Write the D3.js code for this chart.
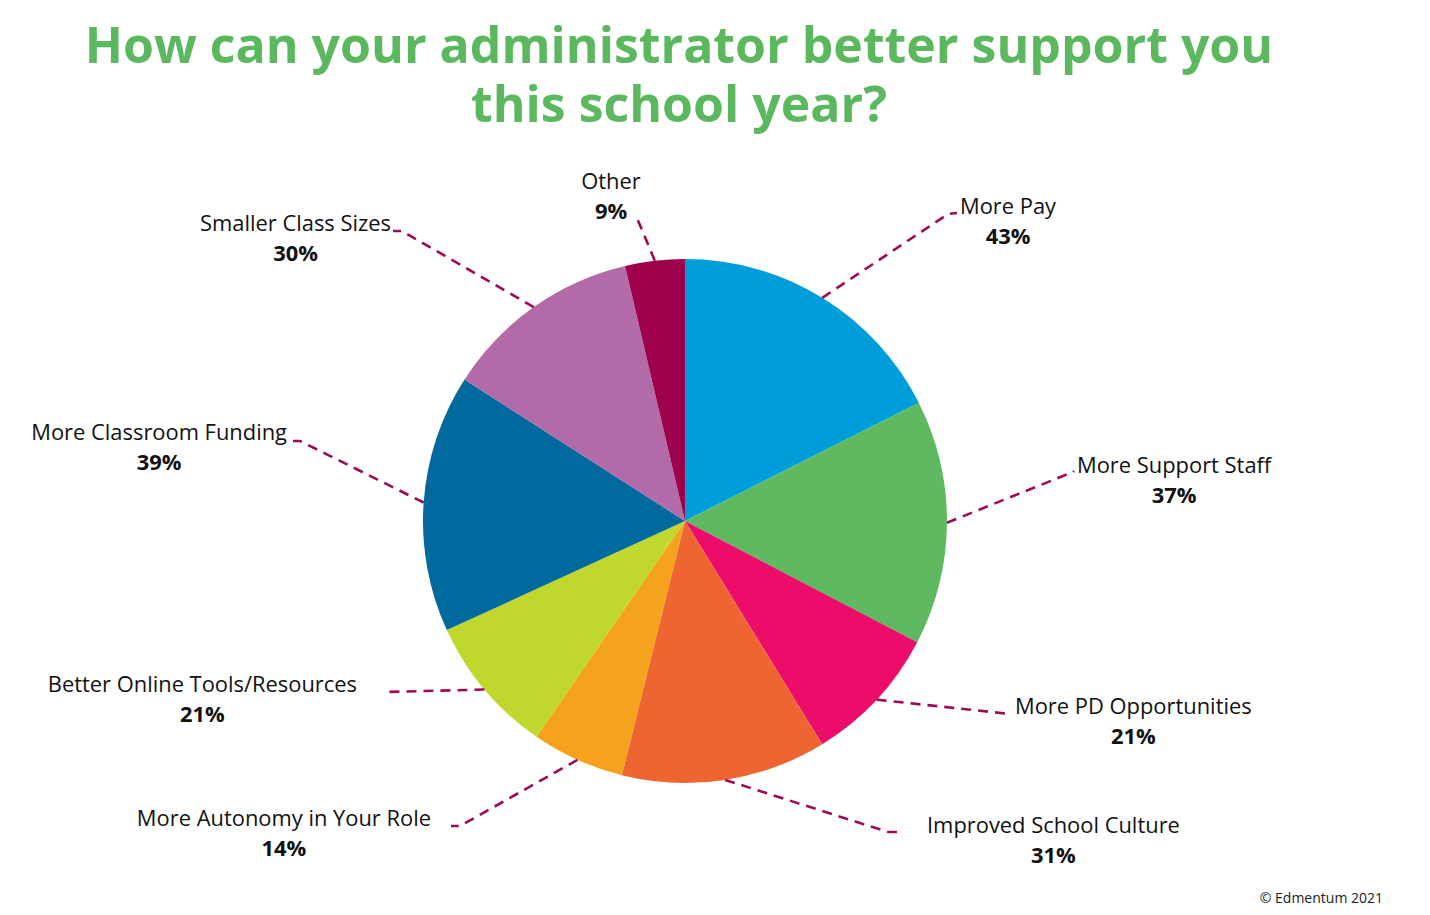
<!DOCTYPE html>
<html><head><meta charset="utf-8">
<script src="https://cdn.jsdelivr.net/npm/d3@7"></script>
<style>
html,body{margin:0;padding:0;background:#fff;}
svg{display:block;font-family:"Open Sans",sans-serif;}
</style></head>
<body>
<svg id="chart" width="1430" height="915"></svg>
<script>
const titleLines = ["How can your administrator better support you", "this school year?"];
const categories = ["More Pay","More Support Staff","More PD Opportunities","Improved School Culture","More Autonomy in Your Role","Better Online Tools/Resources","More Classroom Funding","Smaller Class Sizes","Other"];
const values = [43,37,21,31,14,21,39,30,9];
const colors = ["#009ddb","#5eb961","#ec0d6b","#ef6531","#f5a21d","#c0d72e","#00699e","#b26aa9","#9e004b"];
const copyright = "© Edmentum 2021";
// label layout: leader end points (elbow, end), text anchor point and alignment
const labelLayout = [
  {elbow:[948,214], end:[957,213], tx:960, ty:214, anchor:"start"},
  {elbow:[1073,472], end:[1074,471], tx:1077, ty:473, anchor:"start"},
  {elbow:[1010,714], end:[1011,714], tx:1015, ty:714, anchor:"start"},
  {elbow:[888,832], end:[897,832], tx:927, ty:833, anchor:"start"},
  {elbow:[460,826], end:[451,826], tx:431, ty:826, anchor:"end"},
  {elbow:[384,692], end:[383,692], tx:357, ty:692, anchor:"end"},
  {elbow:[300,441], end:[293,441], tx:287, ty:440, anchor:"end"},
  {elbow:[402,231], end:[393,231], tx:391, ty:231, anchor:"end"},
  {elbow:[637,218], end:[634,216], tx:611, ty:189, anchor:"middle"}
];

const svg = d3.select("#chart");
const cx = 685, cy = 521, R = 262;

const title = svg.append("text")
  .attr("text-anchor","middle")
  .attr("font-size",50).attr("font-weight",700)
  .attr("fill","#5cb85f");
title.selectAll("tspan").data(titleLines).enter().append("tspan")
  .attr("x", 679).attr("y",(d,i)=>63+i*59)
  .text(d=>d);

const data = categories.map((c,i)=>({name:c, value:values[i], color:colors[i], layout:labelLayout[i]}));
const pie = d3.pie().value(d=>d.value).sort(null);
const arcs = pie(data);
const arc = d3.arc().innerRadius(0).outerRadius(R);

const g = svg.append("g").attr("transform",`translate(${cx},${cy})`);
g.selectAll("path").data(arcs).enter().append("path")
  .attr("d",arc).attr("fill",d=>d.data.color);

// leader lines
const line = d3.line();
svg.append("g").selectAll("path").data(arcs).enter().append("path")
  .attr("d", d=>{
    const a = (d.startAngle+d.endAngle)/2;
    const p0 = [cx + R*Math.sin(a), cy - R*Math.cos(a)];
    return line([p0, d.data.layout.elbow, d.data.layout.end]);
  })
  .attr("fill","none").attr("stroke","#9e0b55").attr("stroke-width",2.6)
  .attr("stroke-dasharray","10,7");

const lg = svg.append("g");
arcs.forEach(d=>{
  const L = d.data.layout;
  const t = lg.append("text").attr("x",L.tx).attr("y",L.ty)
    .attr("text-anchor",L.anchor).attr("font-size",21.9).attr("fill","#111")
    .text(d.data.name);
  const w = t.node().getComputedTextLength();
  let mid = L.anchor==="start" ? L.tx + w/2 : L.anchor==="end" ? L.tx - w/2 : L.tx;
  lg.append("text").attr("x",mid).attr("y",L.ty+30)
    .attr("text-anchor","middle").attr("font-size",21.9).attr("font-weight",700).attr("fill","#111")
    .text(d.data.value + "%");
});

svg.append("text").attr("x",1383).attr("y",903).attr("text-anchor","end")
  .attr("font-size",14).attr("fill","#222").text(copyright);
</script>
</body></html>
